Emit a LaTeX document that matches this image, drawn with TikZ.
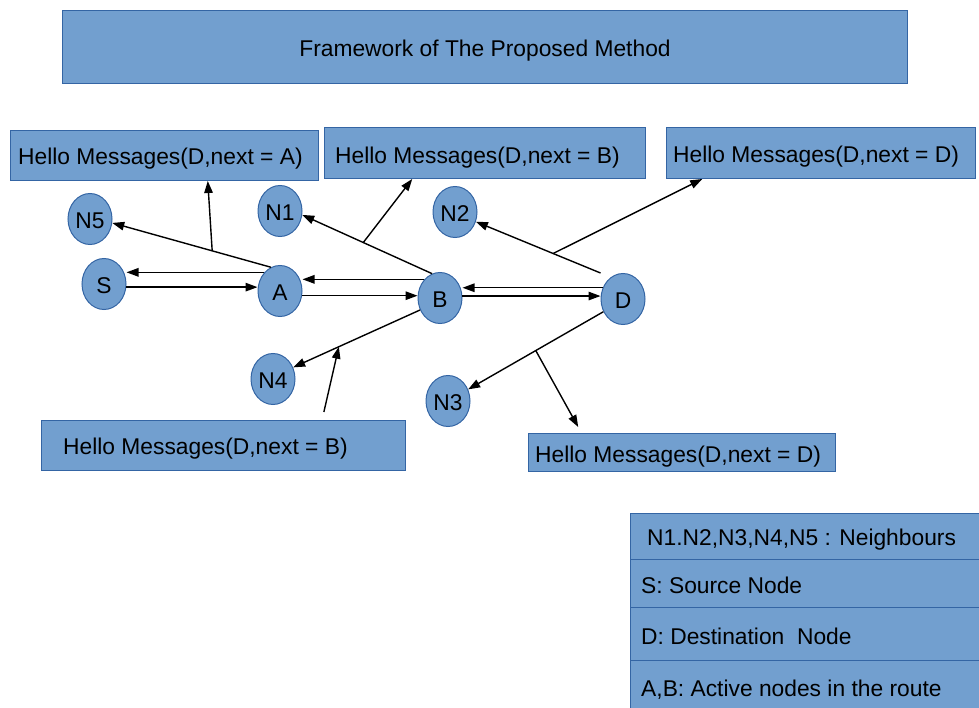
\documentclass[tikz,border=0pt]{standalone}
\usepackage{fontspec}
\setmainfont{Liberation Sans}
\usetikzlibrary{shapes.geometric,arrows.meta,calc}
\definecolor{boxblue}{HTML}{729FCF}
\definecolor{edgeblue}{HTML}{3465A4}
\begin{document}
\begin{tikzpicture}[x=1pt,y=-1pt,
  font=\fontsize{22.8}{27}\selectfont,
  box/.style={rectangle, draw=edgeblue, fill=boxblue, line width=1pt, inner sep=0pt, anchor=north west},
  txt/.style={inner sep=0pt, text height=18.5pt, text depth=0pt, anchor=west},
  nd/.style={ellipse, draw=edgeblue, fill=boxblue, line width=1pt, minimum width=44, minimum height=51,
             inner sep=0pt, text height=18.5pt, text depth=0pt},
  arr/.style={-{Triangle[length=12pt,width=8.5pt]}, line width=1.4pt, black}
]
\useasboundingbox (0,0) rectangle (979,708);

% title bar
\node[box, minimum width=845, minimum height=73] (title) at (62,10) {};
\node[txt, anchor=center] (titletext) at (title.center) {Framework of The Proposed Method};

% hello message boxes
\node[box, minimum width=308, minimum height=50] (hA) at (10,130) {};
\node[txt] (hAt) at ($(hA.west)+(8,0)$) {Hello Messages(D,next = A)};
\node[box, minimum width=321, minimum height=51] (hB) at (324,127) {};
\node[txt] (hBt) at ($(hB.west)+(11,1)$) {Hello Messages(D,next = B)};
\node[box, minimum width=309, minimum height=51] (hD) at (666,127) {};
\node[txt] (hDt) at ($(hD.west)+(7,0.5)$) {Hello Messages(D,next = D)};
\node[box, minimum width=364, minimum height=50] (hBb) at (41,420) {};
\node[txt] (hBbt) at ($(hBb.west)+(22,0)$) {Hello Messages(D,next = B)};
\node[box, minimum width=307, minimum height=38] (hDb) at (528,433) {};
\node[txt] (hDbt) at ($(hDb.west)+(7,0.5)$) {Hello Messages(D,next = D)};

% legend
\node[box, minimum width=352, minimum height=46] (r1) at (630,513) {};
\node[txt] (r1t) at ($(r1.west)+(17,0)$) {N1.N2,N3,N4,N5 : Neighbours};
\node[box, minimum width=352, minimum height=48] (r2) at (630,559) {};
\node[txt] (r2t) at ($(r2.west)+(11,1)$) {S: Source Node};
\node[box, minimum width=352, minimum height=53] (r3) at (630,607) {};
\node[txt] (r3t) at ($(r3.west)+(11,1.5)$) {D: Destination~~Node};
\node[box, minimum width=352, minimum height=54] (r4) at (630,660) {};
\node[txt] (r4t) at ($(r4.west)+(11,-0.5)$) {A,B: Active nodes in the route};

% network nodes
\node[nd] (N5) at (90,219) {N5};
\node[nd] (S)  at (104,284) {S};
\node[nd] (A)  at (280,291) {A};
\node[nd] (N1) at (280,211) {N1};
\node[nd] (N2) at (455,212) {N2};
\node[nd] (B)  at (440,298) {B};
\node[nd] (D)  at (623,299) {D};
\node[nd] (N4) at (273,379) {N4};
\node[nd] (N3) at (448,401) {N3};

% route along S - A - B - D
\draw[arr] (A.130) -- (A.130 -| S.east);
\draw[arr] (S.-8) -- (S.-8 -| A.west);
\draw[arr] (B.130) -- (B.130 -| A.east);
\draw[arr] (A.-12) -- (A.-12 -| B.west);
\draw[arr] (D.151) -- (D.151 -| B.east);
\draw[arr] (B.5) -- (B.5 -| D.west);

% hello messages to the neighbours
\coordinate (Dc) at (D.north -| D.west);
\draw[arr] (A.111) -- (N5.-10);
\draw[arr] (B.108) -- (N1.-10);
\draw[arr] (Dc) -- (N2.-25);
\draw[arr] (B.211) -- (N4.30);
\draw[arr] (D.213) -- (N3.30);

\coordinate (p5) at ($(A.111)!0.37!(N5.-10)$);
\coordinate (p1) at ($(B.108)!0.53!(N1.-10)$);
\coordinate (p2) at ($(Dc)!0.38!(N2.-25)$);
\coordinate (p4) at ($(B.211)!0.64!(N4.30)$);
\coordinate (p3) at ($(D.213)!0.5!(N3.30)$);

\draw[arr] (p5) -- ($(hA.south west)!0.64!(hA.south east)$);
\draw[arr] (p1) -- ($(hB.south west)!0.274!(hB.south east)$);
\draw[arr] (p2) -- ($(hD.south west)!0.117!(hD.south east)$);
\draw[arr] ($(hBb.north west)!0.775!(hBb.north east)+(0,-8)$) -- (p4);
\draw[arr] (p3) -- ($(hDb.north west)!0.163!(hDb.north east)+(0,-6)$);
\end{tikzpicture}
\end{document}
